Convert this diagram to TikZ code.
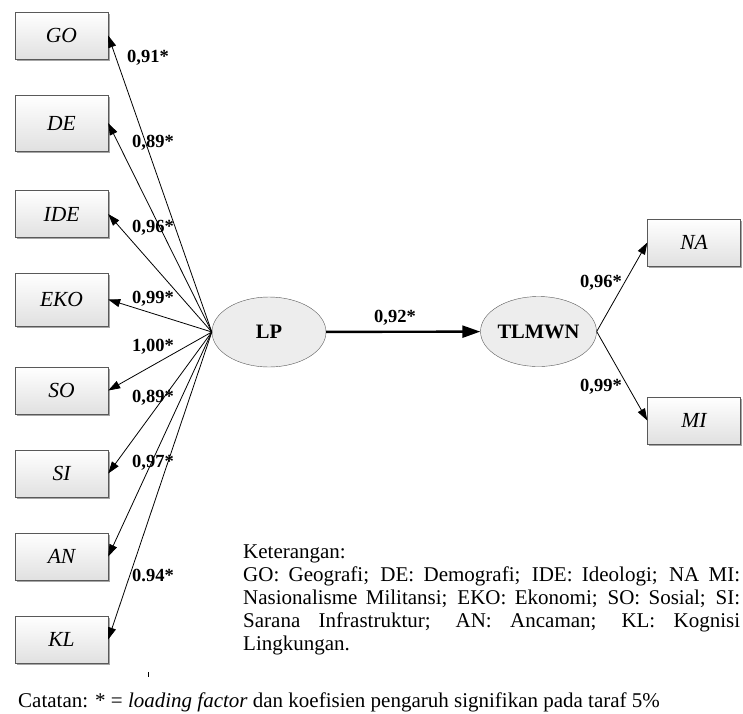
\documentclass[tikz,border=0pt]{standalone}
\usepackage{fontspec}
\setmainfont{Liberation Serif}
\usetikzlibrary{arrows.meta,shapes.geometric,shadows}

\begin{document}
\begin{tikzpicture}[x=1pt,y=-1pt,
    ind/.style={draw=black!65, top color=white, bottom color=black!12,
        minimum width=93pt, minimum height=47pt, inner sep=0pt,
        font=\fontsize{21.5}{24}\selectfont\itshape,
        drop shadow={shadow xshift=1.5pt, shadow yshift=-1.5pt, fill=black!35, opacity=1}},
    lat/.style={ellipse, draw=black!65, fill=black!7, minimum width=114pt,
        minimum height=70pt, inner sep=0pt, font=\fontsize{20.5}{24}\selectfont\bfseries},
    load/.style={font=\fontsize{18.5}{20}\selectfont\bfseries, inner sep=1pt},
    arr/.style={-{Triangle[length=12pt,width=8pt]}, line width=0.8pt}]
    \useasboundingbox (0,0) rectangle (743,713);
    % indikator LP
    \node[ind] (go) at (61.5,35.5) {GO};
    \node[ind, minimum height=56pt] (de) at (61.5,123) {DE};
    \node[ind] (ide) at (61.5,214) {IDE};
    \node[ind, minimum height=53pt] (eko) at (61.5,299.5) {EKO};
    \node[ind] (so) at (61.5,390.5) {SO};
    \node[ind] (si) at (61.5,473.5) {SI};
    \node[ind] (an) at (61.5,556.5) {AN};
    \node[ind] (kl) at (61.5,639.5) {KL};
    % variabel laten
    \node[lat] (lp) at (269,332) {LP};
    \node[lat] (tlmwn) at (538.5,331.5) {TLMWN};
    \node[ind] (na) at (694,242.5) {NA};
    \node[ind] (mi) at (694,420.5) {MI};
    % panah
    \foreach \b in {go,de,ide,eko,so,si,an,kl}
        \draw[arr] (lp.west) -- (\b.east);
    \draw[-{Triangle[length=18pt,width=12pt]}, line width=2.4pt] (lp) -- (tlmwn);
    \draw[arr] (tlmwn.east) -- (na.west);
    \draw[arr] (tlmwn.east) -- (mi.west);
    % koefisien
    \node[load] (lgo) at (148,58) {0,91*};
    \node[load] (lde) at (153,143) {0,89*};
    \node[load] (lide) at (153,228) {0,96*};
    \node[load] (leko) at (153,299) {0,99*};
    \node[load] (lso) at (153,347) {1,00*};
    \node[load] (lsi) at (153,398) {0,89*};
    \node[load] (lan) at (153,463) {0,97*};
    \node[load] (lkl) at (153,575) {0.94*};
    \node[load] (llp) at (395,318) {0,92*};
    \node[load] (lna) at (601,283) {0,96*};
    \node[load] (lmi) at (601,387) {0,99*};
    \draw[line width=1pt] (148,672) -- (148,677);
    % keterangan
    \node[anchor=base west, text width=497pt, align=justify, inner sep=0pt,
        font=\fontsize{21}{23}\selectfont] (ket) at (243,558)
        {Keterangan:\\
        GO: Geografi; DE: Demografi; IDE: Ideologi; NA MI:\linebreak
        Nasionalisme Militansi; EKO: Ekonomi; SO: Sosial; SI:\linebreak
        Sarana Infrastruktur; AN: Ancaman; KL: Kognisi\linebreak
        Lingkungan.};
    \node[anchor=base west, inner sep=0pt, font=\fontsize{21}{23}\selectfont] (cat) at (18,707)
        {Catatan: * = \textit{loading factor} dan koefisien pengaruh signifikan pada taraf 5\%};
\end{tikzpicture}
\end{document}
